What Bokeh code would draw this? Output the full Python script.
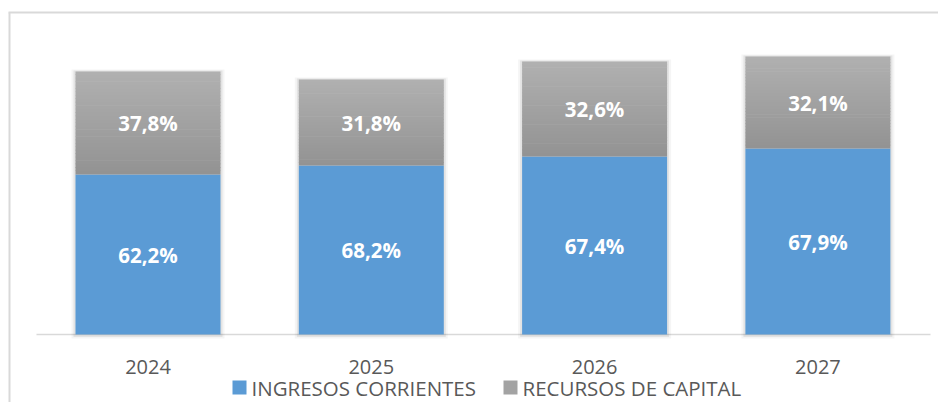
from bokeh.plotting import figure
from bokeh.models import Range1d
from bokeh.core.properties import value
from bokeh.embed import file_html
from bokeh.resources import INLINE

# ---- data ----
years = [2024, 2025, 2026, 2027]
year_labels = ["2024", "2025", "2026", "2027"]
ingresos = [160, 169, 178, 186]          # INGRESOS CORRIENTES (relative size)
recursos = [103, 86, 95, 92]             # RECURSOS DE CAPITAL (relative size)
ingresos_pct = ["62,2%", "68,2%", "67,4%", "67,9%"]
recursos_pct = ["37,8%", "31,8%", "32,6%", "32,1%"]
series_names = ["INGRESOS CORRIENTES", "RECURSOS DE CAPITAL"]

# ---- layout constants ----
W, H = 938, 402
PX = 223.3                      # pixels per year
XS = 2024 - 147.5 / PX
XE = XS + W / PX
BASE = 334                      # baseline distance from top (px)
YB, YT = BASE - H, BASE
BW = 145 / PX                   # bar width
BLUE = "#5b9bd5"
FONT = value("Open Sans")

p = figure(width=W, height=H,
           x_range=Range1d(XS, XE),
           y_range=Range1d(YB, YT),
           output_backend="svg", toolbar_location=None,
           x_axis_location=None, y_axis_location=None, min_border=0)
p.outline_line_color = None
p.grid.visible = False
p.background_fill_color = "white"
p.border_fill_color = "white"

totals = [a + b for a, b in zip(ingresos, recursos)]

# chart frame border (top & left visible)
p.segment(x0=[XS + 9 / PX, XS + 8 / PX], x1=[XS + 9 / PX, XE],
          y0=[YB, YT - 12], y1=[YT - 12, YT - 12],
          line_color="#d9d9d9", line_width=2)

# baseline (category axis line)
p.segment(x0=[XS + 36 / PX], x1=[XS + 930 / PX], y0=[0], y1=[0],
          line_color="#d9d9d9", line_width=1.5)

# soft shadows
p.vbar(x=years, width=BW + 8 / PX, bottom=-4, top=[t + 2 for t in totals],
       fill_color="black", fill_alpha=0.04, line_color=None)
p.vbar(x=years, width=BW + 4 / PX, bottom=-2.5, top=[t + 1 for t in totals],
       fill_color="black", fill_alpha=0.07, line_color=None)

# blue segment
p.vbar(x=years, width=BW, bottom=0, top=ingresos,
       fill_color=BLUE, line_color=None)

# grey segment with vertical gradient (strips)
N = 30
gx, gb, gt, gc = [], [], [], []
for yr, b, g in zip(years, ingresos, recursos):
    for k in range(N):
        gx.append(yr)
        gb.append(b + g * k / N)
        gt.append(b + g * (k + 1) / N + (0.6 if k < N - 1 else 0))
        c = int(round(146 + (177 - 146) * (k + 0.5) / N))
        gc.append(f"#{c:02x}{c:02x}{c:02x}")
p.vbar(x=gx, width=BW, bottom=gb, top=gt, fill_color=gc, line_color=None)

# value labels
p.text(x=years, y=[b / 2 for b in ingresos], text=ingresos_pct,
       text_align="center", text_baseline="middle", text_color="white",
       text_font=FONT, text_font_style="bold", text_font_size="20.5px")
p.text(x=years, y=[b + g / 2 for b, g in zip(ingresos, recursos)], text=recursos_pct,
       text_align="center", text_baseline="middle", text_color="white",
       text_font=FONT, text_font_style="bold", text_font_size="20.5px")

# category labels
p.text(x=years, y=[-32] * len(years), text=year_labels,
       text_align="center", text_baseline="middle", text_color="#595959",
       text_font=FONT, text_font_size="20px")

# legend
LY = -53
p.scatter(x=[XS + 239 / PX], y=[LY], marker="square", size=14,
          fill_color=BLUE, line_color=None)
p.scatter(x=[XS + 510 / PX], y=[LY], marker="square", size=14,
          fill_color="#a3a3a3", line_color=None)
p.text(x=[XS + 251 / PX, XS + 522 / PX], y=[LY, LY], text=series_names,
       text_align="left", text_baseline="middle", text_color="#595959",
       text_font=FONT, text_font_size="20.5px")

open("out.html", "w").write(file_html(p, INLINE))
